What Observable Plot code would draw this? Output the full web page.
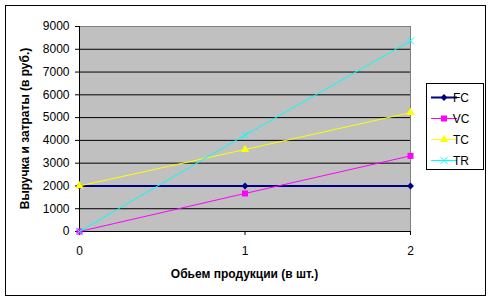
<!DOCTYPE html>
<html><head><meta charset="utf-8">
<script src="https://cdn.jsdelivr.net/npm/d3@7"></script>
<script src="https://cdn.jsdelivr.net/npm/@observablehq/plot@0.6"></script>
<style>body{margin:0;background:#fff} svg{display:block}</style>
</head><body><div id="chart"></div>
<script>
const quantities = [0, 1, 2];
const seriesNames = ["FC", "VC", "TC", "TR"];
const fcValues = [2000, 2000, 2000];
const vcValues = [0, 1670, 3320];
const tcValues = [2000, 3600, 5220];
const trValues = [0, 4230, 8370];
const yTicks = [0, 1000, 2000, 3000, 4000, 5000, 6000, 7000, 8000, 9000];
const xTicks = [0, 1, 2];
const colors = ["#000080", "#ff00ff", "#ffff00", "#00ffff"];
const symbols = ["diamond2", "square", "triangle", "times"];
const xTitle = "Обьем продукции (в шт.)";
const yTitle = "Выручка и затраты (в руб.)";

const valuesBySeries = [fcValues, vcValues, tcValues, trValues];
const rows = [];
seriesNames.forEach((s, i) => quantities.forEach((q, j) => rows.push({series: s, x: q, y: valuesBySeries[i][j]})));

const widths = [2, 1, 1, 1];
const radii = [3.1, 3.4, 3.1, 3.2];

const marks = [
  Plot.frame({fill: "#c0c0c0", stroke: "#808080"}),
  Plot.ruleY(yTicks.filter(d => d > 0 && d < 9000), {stroke: "black", strokeWidth: 1}),
  Plot.axisY({ticks: yTicks, tickSize: 4, tickPadding: 6, label: null, tickFormat: d => String(d)}),
  Plot.axisX({ticks: xTicks, tickSize: 4, tickPadding: 11, label: null, tickFormat: d => String(d)}),
  Plot.ruleX([0], {stroke: "black"}),
  Plot.ruleY([0], {stroke: "black"})
];
seriesNames.forEach((s, i) => {
  const d = rows.filter(r => r.series === s);
  marks.push(Plot.line(d, {x: "x", y: "y", stroke: colors[i], strokeWidth: widths[i]}));
  if (symbols[i] === "times") {
    marks.push(Plot.dot(d, {x: "x", y: "y", symbol: "times", stroke: colors[i], strokeWidth: 1, r: radii[i]}));
  } else {
    marks.push(Plot.dot(d, {x: "x", y: "y", symbol: symbols[i], fill: colors[i], stroke: "none", r: radii[i]}));
  }
});

const chart = Plot.plot({
  width: 493, height: 302,
  marginLeft: 79, marginRight: 83, marginTop: 26, marginBottom: 71,
  style: {fontFamily: "'Liberation Sans', Arial, sans-serif", fontSize: "12px", background: "white", color: "black", overflow: "visible"},
  x: {domain: [0, 2]},
  y: {domain: [0, 9000]},
  marks
});
document.getElementById("chart").appendChild(chart);

const svg = d3.select(chart);
svg.append("rect").attr("x", 5.5).attr("y", 5.5).attr("width", 480).attr("height", 290)
  .attr("fill", "none").attr("stroke", "black").attr("stroke-width", 1);

svg.append("text").attr("transform", "translate(25,128.5) rotate(-90)")
  .attr("text-anchor", "middle").attr("dominant-baseline", "central")
  .attr("font-weight", "bold").attr("font-size", 12).attr("fill", "black").text(yTitle);
svg.append("text").attr("x", 244.5).attr("y", 274)
  .attr("text-anchor", "middle").attr("dominant-baseline", "central")
  .attr("font-weight", "bold").attr("font-size", 12).attr("fill", "black").text(xTitle);

const lg = svg.append("g");
lg.append("rect").attr("x", 426.5).attr("y", 83.5).attr("width", 57).attr("height", 86)
  .attr("fill", "white").attr("stroke", "black");
const entryY = [97.5, 118.5, 139.5, 160.5];
seriesNames.forEach((s, i) => {
  const y = entryY[i];
  lg.append("line").attr("x1", 431).attr("x2", 457).attr("y1", y).attr("y2", y)
    .attr("stroke", colors[i]).attr("stroke-width", widths[i]);
  const sym = d3.symbol().type({diamond2: d3.symbolDiamond2, square: d3.symbolSquare, triangle: d3.symbolTriangle, times: d3.symbolTimes}[symbols[i]])
    .size(Math.PI * radii[i] * radii[i]);
  const p = lg.append("path").attr("d", sym()).attr("transform", `translate(444,${y})`);
  if (symbols[i] === "times") p.attr("fill", "none").attr("stroke", colors[i]);
  else p.attr("fill", colors[i]);
  lg.append("text").attr("x", 461).attr("y", y).attr("dominant-baseline", "central")
    .attr("font-size", 12).attr("fill", "black").text(s);
});
</script>
</body></html>
